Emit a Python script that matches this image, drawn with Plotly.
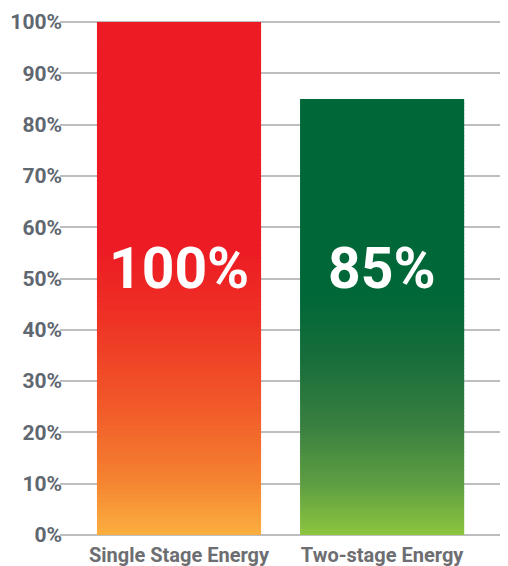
import plotly.graph_objects as go

categories = ["Single Stage Energy", "Two-stage Energy"]
values = [100, 85]
labels = ["100%", "85%"]
tick_vals = [0, 10, 20, 30, 40, 50, 60, 70, 80, 90, 100]
tick_text = ["0%", "10%", "20%", "30%", "40%", "50%", "60%", "70%", "80%", "90%", "100%"]

# gradient stops: (fraction of bar height from bottom, colour)
red_stops = [(0.0, "#FBB040"), (0.12, "#F47F2F"), (0.25, "#F15A29"), (0.42, "#EE3325"), (0.55, "#ED1C24"), (1.0, "#ED1C24")]
green_stops = [(0.0, "#8DC63F"), (0.12, "#5E9E42"), (0.25, "#3A8140"), (0.4, "#196E3B"), (0.55, "#006838"), (1.0, "#006838")]
stops_list = [red_stops, green_stops]

FONT = "Roboto, Arial, sans-serif"
N = 120


def hex2rgb(h):
    h = h.lstrip("#")
    return tuple(int(h[i:i + 2], 16) for i in (0, 2, 4))


def interp(stops, f):
    for (f0, c0), (f1, c1) in zip(stops[:-1], stops[1:]):
        if f0 <= f <= f1:
            t = 0 if f1 == f0 else (f - f0) / (f1 - f0)
            a, b = hex2rgb(c0), hex2rgb(c1)
            return "rgb(%d,%d,%d)" % tuple(round(a[k] + (b[k] - a[k]) * t) for k in range(3))
    return stops[-1][1]


fig = go.Figure()
for cat, val, stops in zip(categories, values, stops_list):
    h = val / N
    xs, ys, bases, cols = [], [], [], []
    for i in range(N):
        base = i * h
        top = (i + 1) * h
        b = max(0, base - h * 0.3)
        xs.append(cat)
        bases.append(b)
        ys.append(top - b)
        cols.append(interp(stops, (i + 0.5) / N))
    fig.add_trace(go.Bar(x=xs, y=ys, base=bases, width=0.808,
                         marker=dict(color=cols, line=dict(width=0)),
                         showlegend=False, hoverinfo="skip"))

for cat, lab in zip(categories, labels):
    fig.add_annotation(x=cat, y=52, text=lab, showarrow=False,
                       xanchor="center", yanchor="middle",
                       font=dict(family=FONT, size=57, color="white", weight="bold"))

fig.update_layout(
    width=508, height=566,
    margin=dict(l=52, r=10, t=12, b=37),
    paper_bgcolor="white", plot_bgcolor="white",
    barmode="overlay",
    xaxis=dict(range=[-0.586, 1.61], showgrid=False, zeroline=False, showline=False,
               ticks="", automargin=False, ticklabelstandoff=4,
               tickfont=dict(family=FONT, size=20, color="#6D6E71", weight="bold")),
    yaxis=dict(range=[-0.4, 100.4], tickvals=tick_vals, ticktext=tick_text,
               showgrid=True, gridcolor="#BCBEC0", gridwidth=2,
               zeroline=False, showline=False, ticks="", automargin=False,
               ticklabelstandoff=-3,
               tickfont=dict(family=FONT, size=21, color="#5F6770", weight="bold")),
)

fig.write_html("out.html")
